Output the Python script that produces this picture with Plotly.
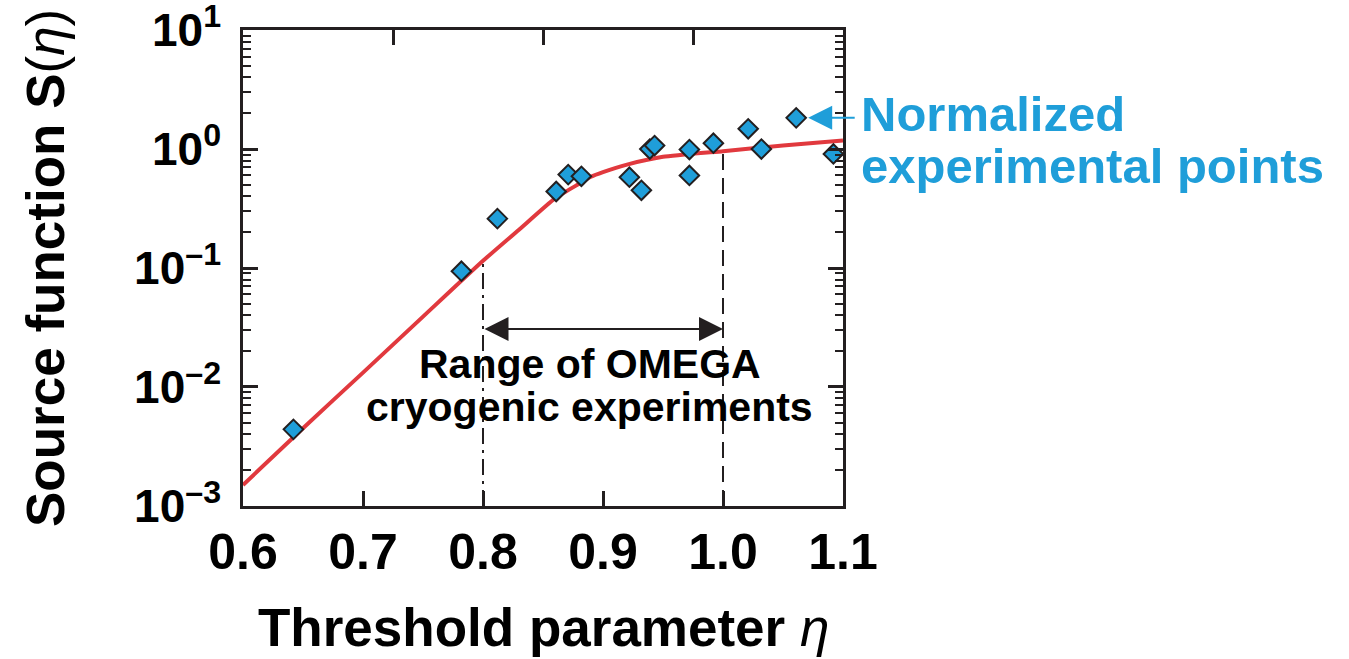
import plotly.graph_objects as go
import math

# ---- data ----
eta_pts = [0.642, 0.782, 0.812, 0.861, 0.871, 0.882, 0.922, 0.932, 0.939, 0.943,
           0.972, 0.972, 0.992, 1.021, 1.032, 1.061, 1.092]
S_pts = [0.0044, 0.094, 0.26, 0.44, 0.61, 0.59, 0.58, 0.45, 1.0, 1.07,
         0.99, 0.60, 1.12, 1.48, 1.0, 1.83, 0.91]

eta_curve = [0.60, 0.65, 0.70, 0.75, 0.80, 0.83, 0.86, 0.88, 0.89,
             0.90, 0.92, 0.95, 1.00, 1.05, 1.10]
S_curve = [0.0015, 0.0045, 0.0132, 0.039, 0.115, 0.21, 0.385, 0.51, 0.585,
           0.64, 0.74, 0.86, 0.96, 1.07, 1.18]

range_lo, range_hi = 0.8, 1.0
S_range_lo_top, S_range_hi_top = 0.115, 0.95
S_arrow = 0.0307

x_ticks = [0.6, 0.7, 0.8, 0.9, 1.0, 1.1]
x_ticktext = ["0.6", "0.7", "0.8", "0.9", "1.0", "1.1"]
x_top_ticks = [0.725, 0.85, 0.975]
y_ticks = [0.001, 0.01, 0.1, 1, 10]
y_ticktext = ["10<sup>\u20133</sup>", "10<sup>\u20132</sup>", "10<sup>\u20131</sup>",
              "10<sup>0</sup>", "10<sup>1</sup>"]
y_minor = [m * 10 ** e for e in range(-3, 1) for m in range(2, 10)]

range_text = ["Range of OMEGA", "cryogenic experiments"]
label_text = ["Normalized", "experimental points"]

RED = "#e1393e"
BLUE = "#1f9ed9"
DARK = "#231f20"
FONT = "Liberation Sans"

fig = go.Figure()

fig.add_trace(go.Scatter(x=[range_lo, range_lo], y=[0.001, S_range_lo_top], mode="lines",
                         line=dict(color=DARK, width=2, dash="16px,6px,3px,6px"),
                         showlegend=False, hoverinfo="skip"))
fig.add_trace(go.Scatter(x=[range_hi, range_hi], y=[0.001, S_range_hi_top], mode="lines",
                         line=dict(color=DARK, width=2, dash="16px,8px"),
                         showlegend=False, hoverinfo="skip"))

fig.add_trace(go.Scatter(x=eta_curve, y=S_curve, mode="lines",
                         line=dict(color=RED, width=4, shape="spline", smoothing=0.5),
                         showlegend=False))

fig.add_trace(go.Scatter(x=eta_pts, y=S_pts, mode="markers",
                         marker=dict(symbol="diamond", size=15, color=BLUE,
                                     line=dict(color=DARK, width=2)),
                         showlegend=False, cliponaxis=False))

# invisible trace on the top axis so it is drawn
fig.add_trace(go.Scatter(x=[0.6, 1.1], y=[0.001, 0.001], xaxis="x2", mode="markers",
                         marker=dict(opacity=0), showlegend=False, hoverinfo="skip"))

fig.update_layout(
    width=1349, height=659,
    margin=dict(l=243, r=506, t=30, b=153),
    plot_bgcolor="white", paper_bgcolor="white",
    xaxis=dict(range=[0.6, 1.1], tickmode="array", tickvals=x_ticks, ticktext=x_ticktext,
               ticks="inside", ticklen=15, tickwidth=2.5, tickcolor=DARK,
               showline=True, linewidth=2.5, linecolor=DARK, mirror=True,
               showgrid=False, zeroline=False, ticklabelstandoff=0,
               ticklabeloverflow="allow", automargin=False,
               tickfont=dict(family=FONT, size=50, color="black", weight="bold")),
    xaxis2=dict(range=[0.6, 1.1], overlaying="x", side="top", tickmode="array",
                tickvals=x_top_ticks, ticks="inside", ticklen=15, tickwidth=2.5,
                tickcolor=DARK, showticklabels=False, showline=False, showgrid=False,
                zeroline=False, automargin=False),
    yaxis=dict(type="log", range=[-3.001, 1.001], tickmode="array", tickvals=y_ticks,
               ticktext=y_ticktext, ticks="inside", ticklen=15, tickwidth=2.5,
               tickcolor=DARK, showline=True, linewidth=2.5, linecolor=DARK,
               mirror="ticks", showgrid=False, zeroline=False, ticklabelstandoff=10,
               ticklabeloverflow="allow", automargin=False,
               minor=dict(tickmode="array", tickvals=y_minor, ticks="inside", ticklen=8,
                          tickwidth=2, tickcolor=DARK, showgrid=False),
               tickfont=dict(family=FONT, size=46, color="black", weight="bold")),
)

# double arrow for the OMEGA range
fig.add_annotation(x=range_hi, y=math.log10(S_arrow), ax=range_lo, ay=math.log10(S_arrow),
                   xref="x", yref="y", axref="x", ayref="y", text="", showarrow=True,
                   arrowhead=2, startarrowhead=2, arrowside="end+start",
                   arrowsize=2.4, startarrowsize=2.4, arrowwidth=2, arrowcolor=DARK,
                   standoff=0, startstandoff=0)
for txt, yy in zip(range_text, [0.298, 0.208]):
    fig.add_annotation(x=0.889, y=yy, xref="x", yref="paper", text=txt, showarrow=False,
                       font=dict(family=FONT, size=41, color="black", weight="bold"),
                       xanchor="center", yanchor="middle")

# blue label and arrow
fig.add_annotation(x=1.071, y=math.log10(1.83), ax=1.111, ay=math.log10(1.83),
                   xref="x", yref="y", axref="x", ayref="y", text="", showarrow=True,
                   arrowhead=2, arrowsize=2.4, arrowwidth=2, arrowcolor=BLUE,
                   standoff=0, startstandoff=0)
for txt, yy in zip(label_text, [0.823, 0.715]):
    fig.add_annotation(x=1.027, y=yy, xref="paper", yref="paper", text=txt,
                       showarrow=False,
                       font=dict(family=FONT, size=49, color=BLUE, weight="bold"),
                       xanchor="left", yanchor="middle")

# axis titles
fig.add_annotation(x=0.5, y=0, xref="paper", yref="paper", yshift=-121,
                   text="<b>Threshold parameter </b><i>\u03b7</i>", showarrow=False,
                   font=dict(family=FONT, size=53, color="black"),
                   xanchor="center", yanchor="middle")
fig.add_annotation(x=0, y=0.5, xref="paper", yref="paper", xshift=-198, textangle=-90,
                   text="<b>Source function S</b>(<i>\u03b7</i>)", showarrow=False,
                   font=dict(family=FONT, size=53, color="black"),
                   xanchor="center", yanchor="middle")

fig.write_html("out.html")
